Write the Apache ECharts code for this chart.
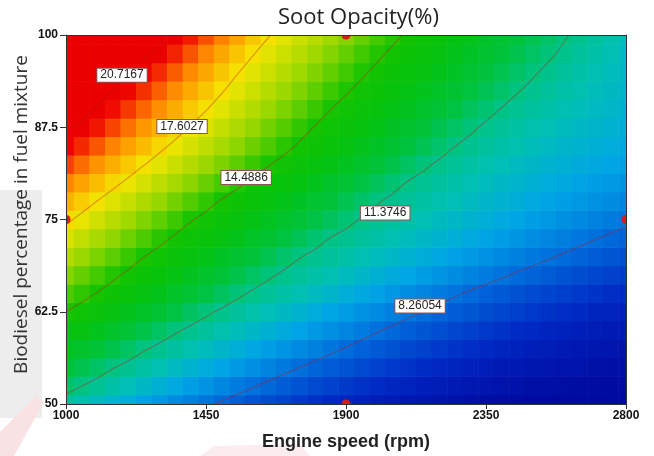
<!DOCTYPE html>
<html>
<head>
<meta charset="utf-8">
<script src="https://cdn.jsdelivr.net/npm/echarts@6/dist/echarts.min.js"></script>
<style>
  html, body { margin: 0; padding: 0; background: #ffffff; }
  #chart { width: 654px; height: 456px; }
</style>
</head>
<body>
<div id="chart"></div>
<script>
// Sampled response surface: soot opacity (%) over engine speed x biodiesel share
const speedRpm = [1000, 1050, 1100, 1150, 1200, 1250, 1300, 1350, 1400, 1450, 1500, 1550, 1600,
  1650, 1700, 1750, 1800, 1850, 1900, 1950, 2000, 2050, 2100, 2150, 2200, 2250, 2300, 2350, 2400,
  2450, 2500, 2550, 2600, 2650, 2700, 2750, 2800];
const biodieselPct = [50, 52.5, 55, 57.5, 60, 62.5, 65, 67.5, 70, 72.5, 75, 77.5, 80, 82.5, 85,
  87.5, 90, 92.5, 95, 97.5, 100];

// one row per biodiesel level (bottom to top), one value per engine speed
const sootOpacity = [
  [11.01,10.72,10.43,10.14,9.85,9.56,9.27,8.98,8.70,8.41,8.13,7.87,7.61,7.37,7.14,6.92,6.71,6.52,6.33,6.16,5.99,5.84,5.70,5.57,5.45,5.35,5.25,5.16,5.09,5.03,4.98,4.94,4.91,4.89,4.88,4.89,4.90],
  [11.70,11.40,11.12,10.84,10.56,10.29,10.01,9.73,9.45,9.18,8.90,8.62,8.34,8.08,7.83,7.60,7.37,7.15,6.95,6.75,6.57,6.40,6.23,6.08,5.94,5.81,5.68,5.57,5.47,5.38,5.30,5.23,5.18,5.13,5.09,5.06,5.05],
  [12.40,12.08,11.76,11.43,11.16,10.90,10.64,10.38,10.11,9.85,9.59,9.33,9.07,8.80,8.54,8.28,8.03,7.80,7.57,7.36,7.15,6.96,6.77,6.60,6.43,6.28,6.14,6.00,5.88,5.76,5.66,5.57,5.48,5.41,5.35,5.29,5.25],
  [13.09,12.76,12.44,12.11,11.79,11.46,11.19,10.94,10.69,10.44,10.20,9.95,9.70,9.45,9.20,8.95,8.70,8.45,8.21,7.97,7.75,7.54,7.33,7.14,6.96,6.78,6.62,6.46,6.31,6.18,6.05,5.94,5.83,5.73,5.64,5.57,5.50],
  [13.79,13.46,13.13,12.81,12.48,12.15,11.82,11.49,11.22,10.98,10.74,10.50,10.26,10.02,9.78,9.54,9.30,9.06,8.82,8.58,8.34,8.10,7.88,7.67,7.46,7.27,7.09,6.91,6.75,6.60,6.45,6.32,6.19,6.08,5.98,5.88,5.80],
  [14.49,14.16,13.83,13.49,13.16,12.83,12.51,12.18,11.85,11.52,11.25,11.01,10.78,10.55,10.32,10.09,9.86,9.63,9.40,9.17,8.94,8.71,8.48,8.25,8.03,7.82,7.62,7.43,7.25,7.07,6.91,6.76,6.62,6.49,6.36,6.25,6.15],
  [15.15,14.81,14.46,14.14,13.82,13.49,13.17,12.85,12.52,12.20,11.88,11.55,11.27,11.05,10.83,10.60,10.38,10.16,9.93,9.71,9.49,9.26,9.04,8.82,8.59,8.37,8.15,7.94,7.74,7.56,7.38,7.22,7.06,6.92,6.78,6.66,6.55],
  [15.81,15.43,15.05,14.67,14.33,14.01,13.70,13.39,13.07,12.76,12.45,12.13,11.82,11.51,11.25,11.05,10.84,10.64,10.43,10.23,10.02,9.82,9.61,9.40,9.20,8.99,8.79,8.58,8.38,8.17,7.98,7.79,7.61,7.44,7.29,7.14,7.00],
  [16.47,16.08,15.69,15.30,14.90,14.51,14.20,13.89,13.58,13.27,12.96,12.65,12.35,12.04,11.73,11.42,11.21,11.02,10.83,10.64,10.45,10.26,10.07,9.88,9.69,9.50,9.31,9.12,8.93,8.74,8.55,8.36,8.17,7.99,7.82,7.66,7.50],
  [17.13,16.73,16.33,15.93,15.53,15.14,14.74,14.38,14.07,13.77,13.47,13.17,12.86,12.56,12.26,11.96,11.65,11.36,11.18,11.00,10.82,10.64,10.46,10.28,10.11,9.93,9.75,9.57,9.39,9.21,9.03,8.85,8.67,8.49,8.31,8.14,7.96],
  [17.78,17.38,16.97,16.57,16.17,15.77,15.37,14.96,14.56,14.25,13.95,13.65,13.36,13.06,12.76,12.47,12.17,11.87,11.58,11.32,11.14,10.96,10.78,10.61,10.43,10.26,10.09,9.92,9.75,9.59,9.42,9.25,9.09,8.93,8.77,8.61,8.45],
  [18.42,18.01,17.60,17.20,16.80,16.40,16.00,15.60,15.20,14.80,14.42,14.12,13.82,13.53,13.23,12.93,12.63,12.33,12.04,11.74,11.44,11.23,11.06,10.88,10.71,10.54,10.38,10.21,10.05,9.89,9.73,9.58,9.43,9.28,9.13,8.99,8.85],
  [19.05,18.65,18.24,17.84,17.44,17.05,16.66,16.26,15.87,15.47,15.08,14.69,14.34,14.04,13.73,13.43,13.13,12.82,12.52,12.22,11.92,11.61,11.33,11.15,10.96,10.79,10.62,10.45,10.29,10.14,9.99,9.84,9.71,9.57,9.44,9.32,9.20],
  [19.69,19.28,18.87,18.47,18.06,17.65,17.26,16.87,16.49,16.10,15.71,15.33,14.94,14.55,14.24,13.93,13.63,13.33,13.02,12.72,12.42,12.12,11.81,11.51,11.26,11.07,10.89,10.71,10.55,10.39,10.24,10.09,9.96,9.83,9.71,9.60,9.50],
  [20.33,19.91,19.50,19.08,18.67,18.25,17.83,17.43,17.05,16.67,16.28,15.90,15.52,15.13,14.75,14.39,14.09,13.79,13.49,13.19,12.89,12.59,12.29,11.99,11.69,11.39,11.19,11.00,10.82,10.66,10.50,10.35,10.21,10.08,9.96,9.85,9.75],
  [20.96,20.51,20.09,19.67,19.24,18.82,18.40,17.98,17.56,17.17,16.78,16.39,16.00,15.61,15.22,14.83,14.45,14.16,13.86,13.57,13.27,12.98,12.68,12.39,12.09,11.80,11.50,11.26,11.07,10.89,10.73,10.57,10.42,10.29,10.17,10.05,9.95],
  [21.57,21.09,20.62,20.19,19.77,19.35,18.92,18.50,18.08,17.65,17.26,16.86,16.47,16.08,15.69,15.30,14.91,14.51,14.22,13.93,13.64,13.35,13.07,12.78,12.49,12.20,11.91,11.62,11.35,11.15,10.97,10.80,10.64,10.49,10.35,10.22,10.10],
  [22.18,21.69,21.21,20.72,20.29,19.85,19.42,18.98,18.55,18.11,17.68,17.28,16.90,16.51,16.12,15.74,15.35,14.96,14.58,14.27,13.99,13.70,13.42,13.13,12.85,12.57,12.28,12.00,11.72,11.43,11.21,11.01,10.83,10.66,10.50,10.36,10.22],
  [22.79,22.29,21.79,21.30,20.80,20.34,19.90,19.45,19.00,18.56,18.11,17.66,17.27,16.90,16.52,16.14,15.76,15.38,15.00,14.63,14.31,14.03,13.74,13.46,13.17,12.89,12.61,12.32,12.04,11.76,11.47,11.23,11.02,10.82,10.64,10.47,10.32],
  [23.40,22.90,22.41,21.91,21.41,20.92,20.44,19.98,19.51,19.05,18.58,18.12,17.66,17.27,16.90,16.53,16.15,15.78,15.41,15.03,14.66,14.34,14.05,13.77,13.49,13.21,12.92,12.64,12.36,12.08,11.79,11.51,11.25,11.02,10.81,10.61,10.42],
  [24.00,23.50,23.01,22.51,22.01,21.52,21.02,20.53,20.05,19.57,19.09,18.61,18.14,17.66,17.27,16.91,16.54,16.17,15.80,15.43,15.06,14.69,14.36,14.07,13.78,13.49,13.20,12.91,12.62,12.33,12.04,11.75,11.46,11.20,10.96,10.73,10.50]
];

const contourLevels = [20.7167, 17.6027, 14.4886, 11.3746, 8.26054];

// design points of the experiment
const designSpeed = [1000, 1900, 1900, 2800];
const designBiodiesel = [75, 100, 50, 75];

// tick labels
const speedTicks = [1000, 1450, 1900, 2350, 2800];
const biodieselTicks = [50, 62.5, 75, 87.5, 100];

// engine speed at which each contour carries its value label, and a small pixel nudge
const labelAtSpeed = [1180, 1373, 1579, 2026, 2138];
const labelNudgePx = [-6, -7, -5, 14, -7];

// colour ramp of the surface: [opacity value, colour]
const rampStops = [
  [5.0, '#000aa0'], [6.5, '#0028c3'], [8.26, '#006edc'], [9.6, '#00a5e6'], [10.6, '#00c0b4'],
  [11.4, '#00c382'], [12.3, '#00c33c'], [13.5, '#05c30f'], [14.5, '#14c300'], [16.0, '#96d700'],
  [17.6, '#f5e600'], [19.0, '#ff8c00'], [20.2, '#f00a00'], [20.4, '#eb0000']
];
const rampMin = rampStops[0][0], rampMax = rampStops[rampStops.length - 1][0];

function hexRgb(h) {
  return [parseInt(h.slice(1, 3), 16), parseInt(h.slice(3, 5), 16), parseInt(h.slice(5, 7), 16)];
}
// evenly spaced colour list for the continuous visualMap
const rampColors = [];
for (let k = 0; k <= 80; k++) {
  const v = rampMin + (rampMax - rampMin) * k / 80;
  let m = 0;
  while (m < rampStops.length - 2 && v > rampStops[m + 1][0]) m++;
  const [va, ca] = rampStops[m], [vb, cb] = rampStops[m + 1];
  const t = Math.max(0, Math.min(1, (v - va) / (vb - va)));
  const a = hexRgb(ca), b = hexRgb(cb);
  rampColors.push('rgb(' + a.map((x, n) => Math.round(x + (b[n] - x) * t)).join(',') + ')');
}

const stepX = speedRpm[1] - speedRpm[0];
const stepY = biodieselPct[1] - biodieselPct[0];

// cells: [speed, biodiesel, value, value clamped to the colour ramp]
const cells = [];
biodieselPct.forEach((b, j) => {
  speedRpm.forEach((s, i) => {
    const v = sootOpacity[j][i];
    cells.push([s, b, v, Math.min(rampMax, Math.max(rampMin, v))]);
  });
});

// marching squares on the sampled grid, chained into polylines
function traceContour(level) {
  const nx = speedRpm.length, ny = biodieselPct.length;
  const pts = {}, adj = {};
  const cross = (key, xa, ya, va, xb, yb, vb) => {
    if (!pts[key]) {
      const t = (level - va) / (vb - va);
      pts[key] = [xa + (xb - xa) * t, ya + (yb - ya) * t];
    }
    return key;
  };
  const link = (p, q) => {
    (adj[p] = adj[p] || []).push(q);
    (adj[q] = adj[q] || []).push(p);
  };
  for (let j = 0; j < ny - 1; j++) {
    for (let i = 0; i < nx - 1; i++) {
      const x0 = speedRpm[i], x1 = speedRpm[i + 1];
      const y0 = biodieselPct[j], y1 = biodieselPct[j + 1];
      const a = sootOpacity[j][i], b = sootOpacity[j][i + 1];
      const c = sootOpacity[j + 1][i + 1], d = sootOpacity[j + 1][i];
      const hit = [];
      if ((a < level) !== (b < level)) hit.push(cross('h' + i + '_' + j, x0, y0, a, x1, y0, b));
      if ((b < level) !== (c < level)) hit.push(cross('v' + (i + 1) + '_' + j, x1, y0, b, x1, y1, c));
      if ((d < level) !== (c < level)) hit.push(cross('h' + i + '_' + (j + 1), x0, y1, d, x1, y1, c));
      if ((a < level) !== (d < level)) hit.push(cross('v' + i + '_' + j, x0, y0, a, x0, y1, d));
      if (hit.length === 2) link(hit[0], hit[1]);
      else if (hit.length === 4) { link(hit[0], hit[3]); link(hit[1], hit[2]); }
    }
  }
  const seen = new Set(), paths = [];
  const keys = Object.keys(adj);
  keys.filter(k => adj[k].length === 1).concat(keys).forEach(start => {
    if (seen.has(start)) return;
    const path = [pts[start]];
    seen.add(start);
    let cur = start;
    for (;;) {
      const next = adj[cur].find(k => !seen.has(k));
      if (next === undefined) break;
      seen.add(next);
      path.push(pts[next]);
      cur = next;
    }
    paths.push(path);
  });
  return paths;
}

function pointAtSpeed(paths, s) {
  for (const p of paths) {
    for (let k = 1; k < p.length; k++) {
      const [xa, ya] = p[k - 1], [xb, yb] = p[k];
      if (xa !== xb && (xa - s) * (xb - s) <= 0) {
        const t = (s - xa) / (xb - xa);
        return [s, ya + (yb - ya) * t];
      }
    }
  }
  return null;
}

const contourPaths = contourLevels.map(traceContour);
const contourLines = [];
contourPaths.forEach(paths => paths.forEach(p => { if (p.length > 1) contourLines.push({ coords: p }); }));

const labelPoints = [];
const labelTexts = [];
const labelNudges = [];
contourLevels.forEach((lv, k) => {
  const pt = pointAtSpeed(contourPaths[k], labelAtSpeed[k]);
  if (pt) { labelPoints.push(pt); labelTexts.push(String(lv)); labelNudges.push(labelNudgePx[k]); }
});

const designPoints = designSpeed.map((s, k) => [s, designBiodiesel[k]]);

const axisLineStyle = { color: '#333333', width: 1 };
const tickFont = { color: '#111111', fontWeight: 'bold', fontSize: 12, fontFamily: 'Liberation Sans' };

const chart = echarts.init(document.getElementById('chart'), null, { renderer: 'canvas' });
chart.setOption({
  animation: false,
  backgroundColor: '#ffffff',
  title: {
    text: 'Soot Opacity(%)',
    left: 273,
    top: 2,
    textStyle: { fontFamily: 'Open Sans', fontWeight: 'normal', fontSize: 22, color: '#222222' }
  },
  graphic: [{
    // faint page marks behind the left and bottom margins
    type: 'rect', left: 0, top: 190, z: 0, silent: true,
    shape: { width: 42, height: 228 },
    style: { fill: '#ededed' }
  }, {
    type: 'polygon', z: 0, silent: true,
    shape: { points: [[0, 456], [0, 432], [36, 396], [44, 402], [14, 456]] },
    style: { fill: '#f9e2e4' }
  }, {
    type: 'polygon', z: 0, silent: true,
    shape: { points: [[200, 456], [214, 446], [300, 444], [310, 456]] },
    style: { fill: '#fbecee' }
  }],
  grid: { left: 66, right: 28, top: 35, bottom: 52, containLabel: false, outerBoundsMode: 'none' },
  xAxis: [{
    type: 'value', min: 1000, max: 2800, z: 5,
    axisLine: { show: true, onZero: false, lineStyle: axisLineStyle },
    axisTick: { show: true, length: 5, customValues: speedTicks, lineStyle: axisLineStyle },
    axisLabel: Object.assign({ customValues: speedTicks, margin: 6, formatter: v => String(v) }, tickFont),
    splitLine: { show: false },
    name: 'Engine speed (rpm)', nameLocation: 'middle', nameGap: 29,
    nameTextStyle: { fontFamily: 'Liberation Sans', fontWeight: 'bold', fontSize: 18, color: '#222222' }
  }, {
    type: 'value', position: 'top', min: 1000, max: 2800, z: 5,
    axisLine: { show: true, onZero: false, lineStyle: axisLineStyle },
    axisTick: { show: false }, axisLabel: { show: false }, splitLine: { show: false }
  }],
  yAxis: [{
    type: 'value', min: 50, max: 100, z: 5,
    axisLine: { show: true, onZero: false, lineStyle: axisLineStyle },
    axisTick: { show: true, length: 6, customValues: biodieselTicks, lineStyle: axisLineStyle },
    axisLabel: Object.assign({ customValues: biodieselTicks, margin: 8, formatter: v => String(v) }, tickFont),
    splitLine: { show: false },
    name: 'Biodiesel percentage in fuel mixture', nameLocation: 'middle', nameGap: 35,
    nameMoveOverlap: false,
    nameTextStyle: { fontFamily: 'Open Sans', fontWeight: 'normal', fontSize: 19, color: '#333333', padding: [0, 0, 0, 10] }
  }, {
    type: 'value', position: 'right', min: 50, max: 100, z: 5,
    axisLine: { show: true, onZero: false, lineStyle: axisLineStyle },
    axisTick: { show: false }, axisLabel: { show: false }, splitLine: { show: false }
  }],
  visualMap: {
    show: false, type: 'continuous', seriesIndex: 0, dimension: 3,
    min: rampMin, max: rampMax,
    inRange: { color: rampColors }
  },
  series: [{
    // colour cells of the surface
    type: 'custom', name: 'surface', z: 1, clip: true, silent: true,
    data: cells,
    encode: { x: 0, y: 1 },
    renderItem: function (params, api) {
      const s = api.value(0), b = api.value(1);
      const p0 = api.coord([s - stepX / 2, b + stepY / 2]);
      const p1 = api.coord([s + stepX / 2, b - stepY / 2]);
      return {
        type: 'rect',
        shape: { x: p0[0], y: p0[1], width: p1[0] - p0[0] + 0.6, height: p1[1] - p0[1] + 0.6 },
        style: { fill: api.visual('color') }
      };
    }
  }, {
    // iso-opacity lines
    type: 'lines', name: 'contours', coordinateSystem: 'cartesian2d', polyline: true,
    z: 3, silent: true,
    data: contourLines,
    lineStyle: { color: 'rgba(190,25,25,0.7)', width: 1.3 }
  }, {
    // design points, clipped to the plot frame
    type: 'custom', name: 'design points', z: 4, clip: true, silent: true,
    data: designPoints,
    encode: { x: 0, y: 1 },
    renderItem: function (params, api) {
      const p = api.coord([api.value(0), api.value(1)]);
      return { type: 'circle', shape: { cx: p[0], cy: p[1], r: 4.5 }, style: { fill: '#d41c1c' } };
    }
  }, {
    // contour value labels
    type: 'custom', name: 'labels', z: 6, clip: false, silent: true,
    data: labelPoints,
    encode: { x: 0, y: 1 },
    renderItem: function (params, api) {
      const p = api.coord([api.value(0), api.value(1)]);
      return {
        type: 'text', x: p[0], y: p[1] + labelNudges[params.dataIndex],
        style: {
          text: labelTexts[params.dataIndex],
          fontSize: 12, fontFamily: 'Liberation Sans', fill: '#222222',
          align: 'center', verticalAlign: 'middle',
          backgroundColor: '#ffffff', borderColor: '#8a5555', borderWidth: 1,
          padding: [1, 3, 0, 3]
        }
      };
    }
  }]
});
</script>
</body>
</html>
